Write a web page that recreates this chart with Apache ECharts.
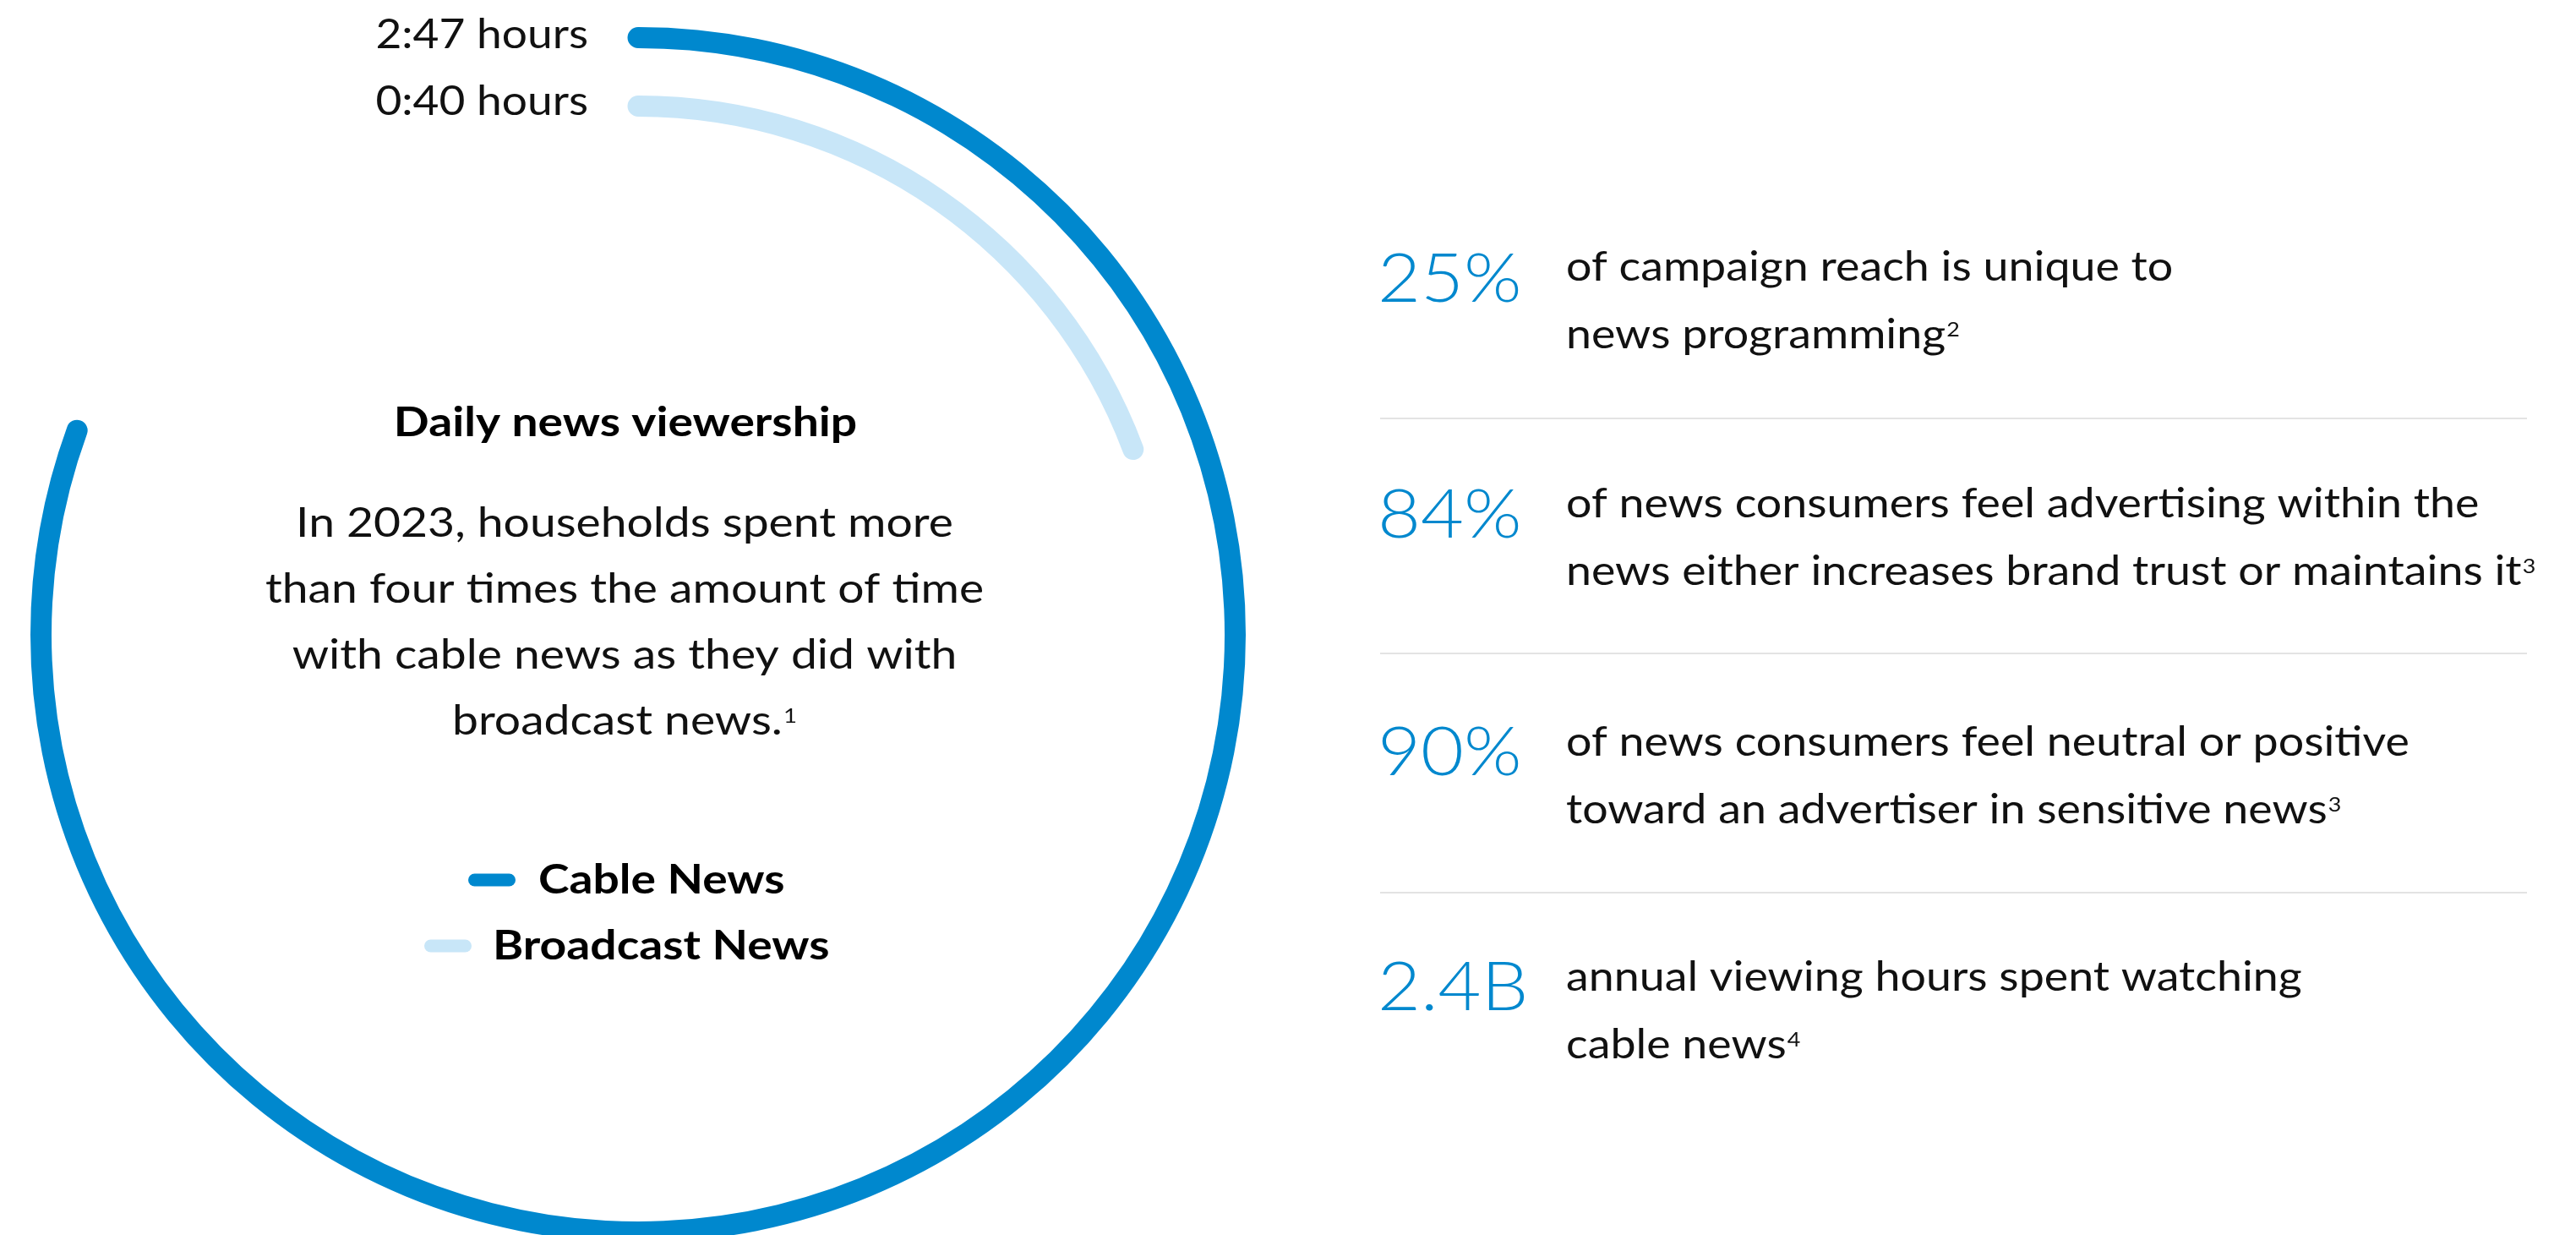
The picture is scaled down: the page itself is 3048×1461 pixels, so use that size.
<!DOCTYPE html>
<html><head><meta charset="utf-8">
<script src="https://cdn.jsdelivr.net/npm/echarts@6/dist/echarts.min.js"></script>
<style>html,body{margin:0;padding:0;background:#fff}#c{width:3048px;height:1461px}</style>
</head><body><div id="c"></div>
<script>
// ---- data ----
const categories = ['Cable News', 'Broadcast News'];
const minutesPerDay = [167, 40];
const timeLabels = ['2:47 hours', '0:40 hours'];
const dialMaxMinutes = 207.3;
const chartTitle = 'Daily news viewership';
const noteLines = ['In 2023, households spent more', 'than four times the amount of time', 'with cable news as they did with', 'broadcast news.'];
const noteFootnote = '1';
const statValues = ['25%', '84%', '90%', '2.4B'];
const statLines = [
  ['of campaign reach is unique to', 'news programming'],
  ['of news consumers feel advertising within the', 'news either increases brand trust or maintains it'],
  ['of news consumers feel neutral or positive', 'toward an advertiser in sensitive news'],
  ['annual viewing hours spent watching', 'cable news']
];
const statFootnotes = ['2', '3', '3', '4'];

// ---- style / layout ----
const FONT = 'Lato';
const BLUE = '#0088CE';
const ringColors = ['#0088CE', '#C8E6F8'];
const ringOuter = [719, 638];
const ringCenter = [755, 751];
const ringWidth = 25;
const timeLabelY = [42, 121];
const legendRowY = [1041, 1119];
const statTopY = [277, 557, 839, 1117];
const statNumY = [331, 610, 891, 1169];
const sepY = [495, 773, 1056];

const chart = echarts.init(document.getElementById('c'), null, {renderer: 'canvas'});

const series = categories.map((name, i) => ({
  type: 'gauge', name: name, center: ringCenter, radius: ringOuter[i],
  startAngle: 90, endAngle: -270, clockwise: true, min: 0, max: dialMaxMinutes,
  axisLine: {show: false}, axisTick: {show: false}, splitLine: {show: false}, axisLabel: {show: false},
  pointer: {show: false}, anchor: {show: false}, title: {show: false}, detail: {show: false},
  progress: {show: true, overlap: true, width: ringWidth, roundCap: true, itemStyle: {color: ringColors[i]}},
  data: [{value: minutesPerDay[i], name: name}],
  silent: true, animation: false
}));

const graphics = [];
// time labels
timeLabels.forEach((t, i) => graphics.push({
  type: 'text', x: 696, y: timeLabelY[i], scaleX: 1.11, silent: true,
  style: {text: t, fill: '#111', fontFamily: FONT, fontSize: 48, fontWeight: 400, textAlign: 'right', textVerticalAlign: 'middle'}
}));
// title
graphics.push({type: 'text', x: 740, y: 501, scaleX: 1.15, silent: true,
  style: {text: chartTitle, fill: '#000', fontFamily: FONT, fontSize: 48, fontWeight: 700, textAlign: 'center', textVerticalAlign: 'middle'}});
// note paragraph
const noteText = noteLines.slice(0, -1).join('\n') + '\n' + noteLines[noteLines.length - 1] + '{sup|' + noteFootnote + '}';
graphics.push({type: 'text', x: 739, y: 581, scaleX: 1.15, silent: true,
  style: {text: noteText, fill: '#111', fontFamily: FONT, fontSize: 48, fontWeight: 400, lineHeight: 78,
    textAlign: 'center', textVerticalAlign: 'top',
    rich: {sup: {fontFamily: FONT, fontSize: 24, fill: '#111', verticalAlign: 'top', padding: [20, 0, 0, 1], lineHeight: 78}}}});
// legend
const legendIconX = [554, 502];
const legendTextX = [637, 583];
categories.forEach((name, i) => {
  graphics.push({type: 'rect', silent: true, shape: {x: legendIconX[i], y: legendRowY[i] - 7.5, width: 56, height: 15, r: 7.5},
    style: {fill: ringColors[i]}});
  graphics.push({type: 'text', x: legendTextX[i], y: legendRowY[i] + 1, scaleX: 1.15, silent: true,
    style: {text: name, fill: '#000', fontFamily: FONT, fontSize: 48, fontWeight: 700, textAlign: 'left', textVerticalAlign: 'middle'}});
});
// separators
sepY.forEach(y => graphics.push({type: 'line', silent: true, shape: {x1: 1633, y1: y, x2: 2990, y2: y},
  style: {stroke: '#E3E3E3', lineWidth: 2}}));
// stats
statValues.forEach((v, i) => {
  graphics.push({type: 'text', x: 1630, y: statNumY[i], scaleX: 1.1, silent: true,
    style: {text: v, fill: BLUE, fontFamily: FONT, fontSize: 80, fontWeight: 300, textAlign: 'left', textVerticalAlign: 'middle'}});
  const txt = statLines[i][0] + '\n' + statLines[i][1] + '{sup|' + statFootnotes[i] + '}';
  graphics.push({type: 'text', x: 1853, y: statTopY[i], scaleX: 1.12, silent: true,
    style: {text: txt, fill: '#111', fontFamily: FONT, fontSize: 48, fontWeight: 400, lineHeight: 80,
      textAlign: 'left', textVerticalAlign: 'top',
      rich: {sup: {fontFamily: FONT, fontSize: 24, fill: '#111', verticalAlign: 'top', padding: [21, 0, 0, 1], lineHeight: 80}}}});
});

chart.setOption({
  backgroundColor: '#fff',
  animation: false,
  series: series,
  graphic: {elements: graphics}
});
</script></body></html>
